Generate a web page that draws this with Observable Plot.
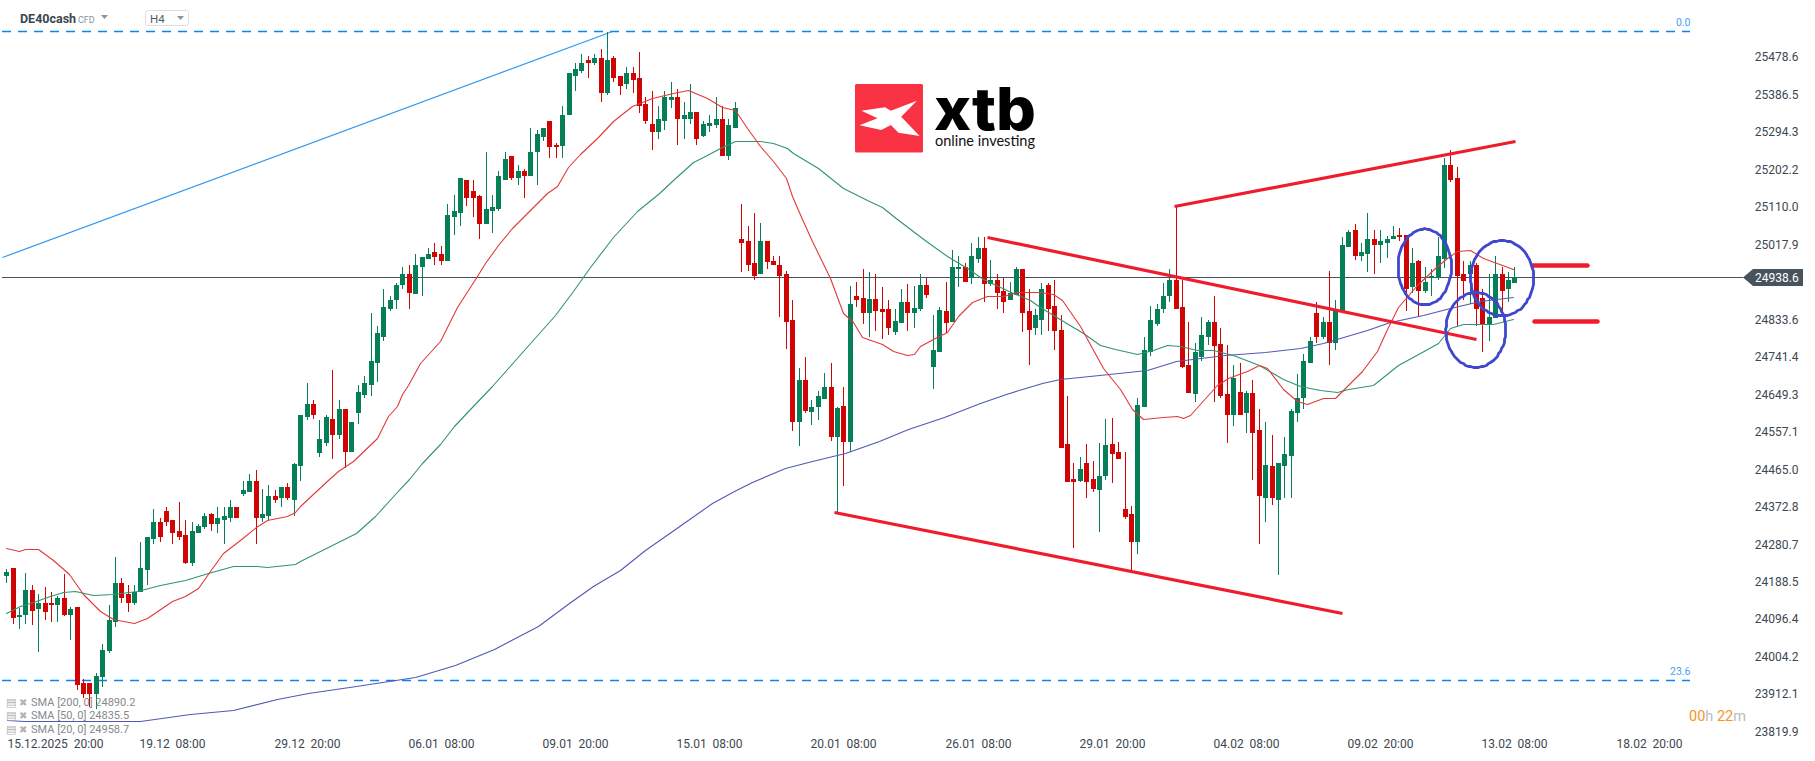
<!DOCTYPE html>
<html>
<head>
<meta charset="utf-8">
<title>DE40cash H4</title>
<script src="https://cdn.jsdelivr.net/npm/d3@7"></script>
<script src="https://cdn.jsdelivr.net/npm/@observablehq/plot@0.6"></script>
<style>
html,body{margin:0;padding:0;background:#fff;overflow:hidden}
svg{display:block}
</style>
</head>
<body>
<div id="chart"></div>
<script>
const opens = [
24204,24222,24102,24108,24168,24121,24138,24138,24131,24150,
24108,24126,23941,23939,23912,23954,24020,24091,24187,24160,
24136,24163,24217,24295,24335,24364,24342,24313,24305,24236,
24310,24325,24355,24332,24342,24347,24372,24404,24411,24436,
24347,24350,24401,24394,24421,24391,24475,24595,24627,24507,
24531,24590,24551,24613,24509,24603,24649,24672,24728,24792,
24859,24883,24918,24947,24896,24962,24982,24999,24994,24977,
25087,25097,25178,25151,25137,25068,25102,25105,25178,25235,
25181,25200,25186,25245,25284,25321,25264,25260,25336,25434,
25444,25473,25464,25478,25392,25476,25432,25412,25441,25429,
25363,25316,25296,25323,25375,25382,25328,25328,25345,25286,
25311,25313,25326,25237,25306,25031,25026,24972,24945,25028,
24979,24967,24945,24834,24583,24686,24607,24620,24639,24667,
24546,24622,24534,24893,24888,24849,24885,24861,24861,24804,
24826,24876,24851,24861,24920,24718,24755,24856,24829,24957,
24964,24935,24984,25011,24922,24932,24903,24883,24895,24957,
24856,24812,24832,24918,24868,24809,24529,24443,24438,24482,
24443,24416,24450,24529,24509,24369,24357,24288,24620,24753,
24824,24859,24891,24930,24864,24723,24652,24743,24792,24829,
24775,24652,24600,24657,24603,24654,24563,24396,24475,24389,
24475,24499,24603,24642,24728,24851,24790,24829,24777,24856,
25013,25055,24991,24994,25031,25018,25021,25033,25043,25043,
24913,24979,24905,24935,24935,24982,25213,25183,24947,24947,
24967,24886,24822,24837,24947,24908,24925];
const highs = [
24221,24222,24125,24211,24182,24158,24177,24163,24155,24209,
24128,24126,23951,23941,23966,24035,24131,24249,24199,24180,
24180,24288,24298,24367,24347,24372,24342,24386,24342,24337,
24330,24359,24359,24374,24372,24391,24372,24438,24453,24463,
24418,24426,24416,24423,24433,24482,24600,24677,24635,24588,
24598,24709,24637,24613,24583,24672,24696,24851,24817,24910,
24893,24923,24962,24967,24996,24987,25011,25021,25016,25117,
25141,25181,25178,25176,25141,25247,25139,25200,25247,25235,
25215,25203,25306,25299,25306,25321,25267,25358,25441,25464,
25486,25483,25486,25498,25542,25481,25434,25456,25456,25493,
25380,25395,25358,25397,25419,25400,25368,25412,25345,25321,
25336,25380,25358,25328,25368,25119,25063,25095,25072,25028,
24991,24991,24954,24881,24716,24743,24635,24659,24703,24728,
24620,24667,24917,24927,24957,24952,24947,24915,24881,24861,
24910,24922,24917,24947,24935,24844,24866,24927,25006,24991,
24972,25021,25036,25038,24981,24947,24935,24927,24962,24959,
24908,24859,24925,24925,24932,24844,24647,24480,24497,24527,
24487,24531,24590,24593,24534,24509,24376,24640,24792,24868,
24873,24923,24959,25113,24930,24829,24777,24839,24834,24891,
24812,24772,24723,24728,24659,24686,24613,24581,24549,24482,
24544,24615,24699,24750,24792,24878,24841,24954,24883,25036,
25055,25068,25021,25095,25053,25053,25040,25063,25060,25043,
25011,24981,24962,24959,25038,25230,25250,25208,24979,24977,
24974,24908,24947,24989,24962,24952,24964];
const lows = [
24186,24086,24072,24086,24084,24017,24094,24089,24089,24104,
24045,23924,23904,23880,23877,23931,24015,24079,24138,24116,
24131,24163,24180,24281,24288,24327,24281,24293,24234,24229,
24308,24320,24315,24310,24281,24335,24345,24401,24409,24281,
24337,24340,24382,24372,24391,24352,24438,24588,24590,24495,
24522,24492,24539,24470,24509,24578,24642,24647,24681,24782,
24856,24861,24908,24861,24896,24891,24982,24969,24967,24977,
25041,25065,25114,25087,25031,25068,25046,25100,25176,25178,
25166,25132,25186,25164,25274,25232,25232,25230,25336,25395,
25439,25427,25459,25368,25385,25419,25387,25402,25390,25343,
25314,25250,25277,25301,25353,25262,25277,25316,25264,25282,
25294,25306,25237,25227,25304,24952,24954,24930,24945,24957,
24969,24841,24762,24561,24524,24603,24575,24588,24639,24536,
24361,24425,24509,24866,24824,24790,24807,24785,24797,24797,
24826,24807,24812,24856,24888,24664,24755,24802,24829,24913,
24927,24922,24974,24876,24917,24861,24849,24881,24895,24804,
24721,24795,24797,24807,24758,24517,24435,24271,24435,24396,
24411,24312,24440,24431,24490,24344,24216,24258,24620,24745,
24819,24851,24876,24861,24716,24654,24630,24731,24772,24630,
24642,24531,24573,24600,24554,24440,24283,24335,24379,24207,
24394,24396,24583,24613,24728,24777,24785,24721,24760,24856,
25013,24981,24979,24952,24947,24972,24986,25033,25027,24856,
24898,24839,24900,24893,24932,24960,25173,24819,24883,24871,
24817,24753,24780,24837,24846,24878,24923];
const closes = [
24214,24099,24108,24170,24118,24138,24116,24131,24148,24108,
24123,23936,23914,23912,23958,24022,24096,24187,24148,24138,
24165,24224,24298,24335,24298,24335,24308,24300,24236,24315,
24327,24352,24332,24347,24352,24372,24345,24416,24436,24347,
24355,24401,24391,24423,24394,24478,24600,24627,24600,24541,
24595,24551,24615,24509,24583,24657,24677,24733,24802,24864,
24883,24920,24947,24898,24967,24987,24994,24987,24979,25090,
25100,25181,25134,25132,25068,25105,25110,25186,25228,25183,
25198,25186,25247,25291,25306,25257,25257,25338,25441,25449,
25466,25466,25476,25390,25473,25427,25407,25441,25422,25360,
25321,25296,25328,25380,25382,25328,25336,25345,25277,25316,
25318,25326,25237,25313,25353,25021,24967,24942,25028,24976,
24969,24940,24829,24583,24686,24610,24620,24647,24667,24546,
24617,24534,24871,24883,24851,24885,24856,24853,24814,24831,
24876,24851,24863,24920,24895,24760,24858,24826,24962,24964,
24927,24991,25011,24922,24932,24900,24878,24900,24957,24851,
24809,24846,24910,24861,24807,24519,24435,24435,24467,24435,
24418,24450,24526,24504,24492,24349,24288,24625,24758,24832,
24859,24893,24930,24861,24718,24654,24755,24797,24829,24770,
24645,24600,24689,24600,24654,24556,24401,24477,24394,24482,
24504,24610,24640,24733,24782,24792,24829,24777,24856,25018,
25048,24991,24999,25033,25018,25026,25033,25040,25036,24910,
24974,24905,24927,24941,24989,25213,25178,24942,24928,24967,
24861,24822,24841,24945,24905,24930,24938.6];

const sma20Bars = [0,2,2.9,5,7.3,9.8,12,14.7,16.7,20,22,26,28,30,31.9,33.9,36.6,39,40.8,43.9,45.2,46,50.5,51.9,54.3,58,59.7,61.1,61.9,62.9,64.7,67.9,70.5,73.7,74.9,76.9,79.1,80.9,84.6,86.2,87.9,89.8,92.6,94.9,97.9,101,104.3,106.7,109.6,112,114,115.9,118,120,122,123,124.5,126.1,128.9,131,132.5,133.9,137,138.8,141,142,143,145,147.2,148.9,150,151.1,153.5,156,158.2,160.2,161.8,163.8,165.2,168,171.6,174.3,176.2,177.9,181,183.2,184.2,185.2,187.9,189.5,191.2,194.2,196,197.3,199.8,202,203.6,206.1,208,210.3,212.2,214.5,216.1,217.8,220.8,223.6,225.5,227,229,231.1,235.8];
const sma20Vals = [24272,24264,24270,24270,24242,24209,24158,24117,24098,24087,24101,24141,24154,24174,24215,24259,24293,24324,24340,24352,24360,24375,24441,24461,24486,24543,24596,24621,24652,24672,24726,24781,24864,24941,24974,25018,25060,25085,25146,25162,25208,25240,25282,25322,25359,25379,25392,25398,25378,25357,25348,25306,25260,25223,25181,25137,25080,25027,24937,24851,24827,24790,24773,24756,24746,24748,24768,24785,24803,24842,24859,24878,24891,24893,24901,24901,24901,24896,24882,24818,24716,24662,24613,24590,24595,24596,24591,24600,24645,24674,24689,24707,24722,24715,24662,24633,24626,24640,24640,24678,24707,24756,24810,24864,24920,24961,24986,25002,25005,24986,24958.7];
const sma50Bars = [0,2.1,4.2,6.8,8.9,10.7,13.6,16.7,20.5,24,28,31.6,35.5,39.2,40.8,45.2,46,54.7,57.7,60.8,63,65,67.9,70,72.6,76,80.9,85.9,88.7,91.3,94.9,98.7,102,104.3,107.5,109,111.7,114,118,120,122.2,123.1,127,131,134.7,137,139.4,144,147.2,150.3,152.8,157.5,160.2,161.3,163.8,168.5,171.2,173.5,177,179.5,181.6,183.7,186.3,188.8,192,196,199.8,202.4,205.6,208.2,209.9,213.9,217.8,221.2,224,225.9,228,232.7,235.8];
const sma50Vals = [24113,24129,24140,24154,24165,24166,24156,24160,24166,24181,24193,24211,24227,24227,24225,24234,24241,24310,24350,24404,24441,24482,24527,24572,24613,24670,24756,24846,24904,24962,25036,25100,25142,25178,25222,25233,25256,25273,25272,25268,25256,25244,25207,25158,25129,25110,25080,25027,24990,24961,24933,24900,24881,24869,24846,24801,24771,24762,24748,24759,24771,24769,24760,24759,24746,24723,24687,24670,24660,24655,24664,24674,24723,24751,24777,24812,24824,24823,24835.5];
const sma200Bars = [0.1,2.8,20.9,28.7,35.5,42.3,47.2,54.7,63.9,70.2,76.3,83.2,88,91.8,96,99.9,103.1,106.2,110.4,113.9,116.7,121.9,126.1,131.3,136.6,141.1,146.7,152.3,156.4,158.9,162.1,164.9,172.6,178.5,183,190.7,197,202.4,206.1,213,216.5,221.7,225.9,230.6,235.8];
const sma200Vals = [23848,23846,23846,23865,23873,23900,23916,23934,23955,23984,24023,24080,24138,24178,24219,24268,24301,24335,24384,24412,24435,24469,24487,24506,24535,24564,24594,24629,24650,24664,24677,24687,24701,24711,24732,24746,24753,24765,24777,24808,24827,24846,24863,24879,24890.2];

const lastPrice = 24938.6;
const fibLevels = [{label:"0.0", price:25543.5},{label:"23.6", price:23947.6}];
const yTicks = [25478.6,25386.5,25294.3,25202.2,25110.0,25017.9,24925.7,24833.6,24741.4,24649.3,24557.1,24465.0,24372.8,24280.7,24188.5,24096.4,24004.2,23912.1,23819.9];
const xTickBars = [7.6,26,47,68,89,110,131,152,173,194,215,236,257];
const xTickLabels = ["15.12.2025  20:00","19.12  08:00","29.12  20:00","06.01  08:00","09.01  20:00","15.01  08:00","20.01  08:00","26.01  08:00","29.01  20:00","04.02  08:00","09.02  20:00","13.02  08:00","18.02  20:00"];
const smaLegend = ["SMA [200, 0] 24890.2","SMA [50, 0] 24835.5","SMA [20, 0] 24958.7"];

const redTrends = [
  {x1:182.7,y1:25113,x2:236.1,y2:25272.6},
  {x1:153.4,y1:25037.5,x2:230,y2:24786.7},
  {x1:129.6,y1:24361,x2:209.1,y2:24112.4}
];
const redMarkers = [
  {x1:238.7,y1:24968.6,x2:247.4,y2:24968.6},
  {x1:239.1,y1:24831,x2:249,y2:24831}
];
const blueTrend = [{x1:-0.67,y1:24988,x2:94.8,y2:25544}];
const circles = [
  {cx:221.9,cy:24964.5,rx:4.18,ry:93.4},
  {cx:229.9,cy:24809.5,rx:4.69,ry:91.7},
  {cx:234,cy:24936.7,rx:4.93,ry:92.7}
];

const UP = "#057f58", DOWN = "#d10404";
const font = "Roboto, sans-serif";
const candles = opens.map((o,i)=>({i,o,h:highs[i],l:lows[i],c:closes[i]}));
const ups = candles.filter(d=>d.c>=d.o), downs = candles.filter(d=>d.c<d.o);
const series = (bars,vals)=>bars.map((b,i)=>({b,v:vals[i]}));
const ellipsePts = circles.flatMap((e,k)=>d3.range(0,73).map(t=>({k,
  b:e.cx+e.rx*Math.cos(t*Math.PI/36), v:e.cy+e.ry*Math.sin(t*Math.PI/36)})));
const tickText = new Map(xTickBars.map((b,i)=>[b,xTickLabels[i].replace(/ /g,"\u00a0")]));

function chrome(index, scales, values, dimensions){
  const g = d3.create("svg:g").attr("font-family",font).attr("text-anchor","start");
  const text=(x,y,s,o={})=>{const t=g.append("text").attr("x",x).attr("y",y).text(s);
    for(const k in o)t.attr(k,o[k]);return t;};
  // header
  text(20,23,"DE40cash",{"font-size":12.5,"font-weight":700,fill:"#3b4650"});
  text(78,23,"CFD",{"font-size":9,fill:"#8d949a"});
  g.append("path").attr("d","M101 15h7l-3.5 4z").attr("fill","#8d949a");
  g.append("rect").attr("x",145.5).attr("y",10.5).attr("width",43).attr("height",15).attr("rx",2)
    .attr("fill","#fff").attr("stroke","#dcdfe2");
  text(150,23,"H4",{"font-size":11.5,fill:"#545d65"});
  g.append("path").attr("d","M177 16h7l-3.5 4z").attr("fill","#8d949a");
  // logo
  g.append("rect").attr("x",855).attr("y",84).attr("width",68).attr("height",68.5).attr("rx",1.5).attr("fill","#f93343");
  g.append("path").attr("fill","#fff").attr("d","M861.4 110.7L885 107.3L890.9 110.7L916.9 100.7L901.2 116.7L919.6 136L898.5 132.7L890.9 125L881.3 130L859.5 125.3L877.5 118.3Z");
  text(934,130,"xtb",{"font-family":"Inter, Roboto, sans-serif","font-size":59,"font-weight":800,fill:"#000",textLength:102,lengthAdjust:"spacingAndGlyphs"});
  text(935,146,"online investing",{"font-family":"Lato, Roboto, sans-serif","font-size":15.5,fill:"#111",textLength:100,lengthAdjust:"spacingAndGlyphs"});
  // SMA legend
  smaLegend.forEach((s,i)=>{
    const y = 705.5+i*13.9;
    text(6,y,"\u25a4",{"font-family":"DejaVu Sans","font-size":11,fill:"#b3b3b3"});
    text(19,y,"\u2716",{"font-family":"DejaVu Sans","font-size":10,fill:"#b3b3b3"});
    text(31,y,s,{"font-size":11,fill:"#858a8e"});
  });
  // last price tag
  const py = scales.y(lastPrice)+0.5;
  g.append("path").attr("fill","#47545e").attr("d",`M1743 ${py}l10 -8.5h50v17h-50z`);
  text(1755,py+4.3,lastPrice.toFixed(1),{"font-size":12,fill:"#fff"});
  // timer
  const timer = text(1689,721,"",{"font-size":14.5});
  [["00","#f7931e"],["h","#b9bcbf"],["\u00a022","#f7931e"],["m","#b9bcbf"]].forEach(([s,c])=>{
    timer.append("tspan").attr("fill",c).text(s);
  });
  return g.node();
}

const chart = Plot.plot({
  width:1815, height:761,
  marginTop:0, marginRight:0, marginBottom:0, marginLeft:0,
  style:{background:"#fff", fontFamily:font},
  x:{domain:[-0.986,283.05], range:[0,1815], axis:null, round:true},
  y:{domain:[23748.4,25619.7], range:[761,0], axis:null, round:true},
  marks:[
    Plot.axisY(yTicks,{anchor:"right",tickSize:0,tickPadding:0,dx:-17,dy:-0.5,textAnchor:"end",label:null,
      tickFormat:d=>d.toFixed(1),fontSize:12,fill:"#3c4750"}),
    Plot.axisX(xTickBars,{anchor:"bottom",tickSize:0,tickPadding:0,dy:-22,label:null,
      tickFormat:d=>tickText.get(d),fontSize:12,fill:"#3c4750"}),
    Plot.ruleY(fibLevels,{x1:()=>-0.67,x2:()=>263.5,y:"price",stroke:"#0583f2",strokeWidth:1.3,strokeDasharray:"9,7"}),
    Plot.text(fibLevels,{x:()=>263.5,y:"price",text:"label",textAnchor:"end",dy:-9,fontSize:10.5,fill:"#45a2f5"}),
    Plot.ruleY([lastPrice],{x1:()=>-0.67,x2:()=>271.8,stroke:"#47535c",strokeWidth:1}),
    Plot.link(blueTrend,{x1:"x1",y1:"y1",x2:"x2",y2:"y2",stroke:"#2a98f5",strokeWidth:1.2}),
    Plot.ruleX(ups,{x:"i",y1:"l",y2:"h",stroke:UP,strokeWidth:1}),
    Plot.ruleX(downs,{x:"i",y1:"l",y2:"h",stroke:DOWN,strokeWidth:1}),
    Plot.ruleX(ups,{x:"i",y1:"o",y2:"c",stroke:UP,strokeWidth:5}),
    Plot.ruleX(downs,{x:"i",y1:"o",y2:"c",stroke:DOWN,strokeWidth:5}),
    Plot.line(series(sma200Bars,sma200Vals),{x:"b",y:"v",stroke:"#5059b4",strokeWidth:1.1}),
    Plot.line(series(sma50Bars,sma50Vals),{x:"b",y:"v",stroke:"#2f9472",strokeWidth:1.1}),
    Plot.line(series(sma20Bars,sma20Vals),{x:"b",y:"v",stroke:"#e2383a",strokeWidth:1.1}),
    Plot.link(redTrends,{x1:"x1",y1:"y1",x2:"x2",y2:"y2",stroke:"#ee1c2c",strokeWidth:3.2}),
    Plot.link(redMarkers,{x1:"x1",y1:"y1",x2:"x2",y2:"y2",stroke:"#ee1c2c",strokeWidth:4.5,strokeLinecap:"round"}),
    Plot.line(ellipsePts,{x:"b",y:"v",z:"k",stroke:"#3f48cc",strokeWidth:2.8}),
    chrome
  ]
});
document.getElementById("chart").append(chart);
</script>
</body>
</html>
